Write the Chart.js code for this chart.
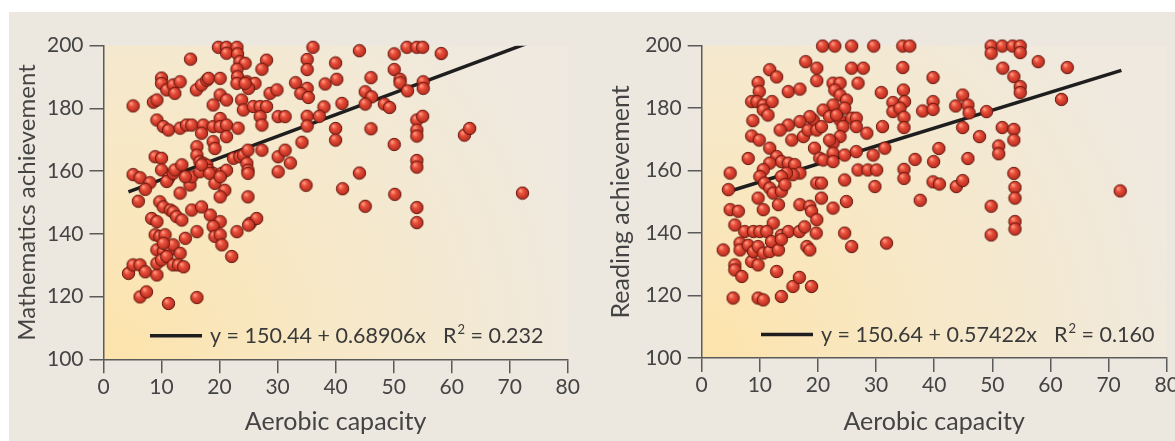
<!DOCTYPE html>
<html>
<head>
<meta charset="utf-8">
<script src="https://cdn.jsdelivr.net/npm/chart.js@4.4.1/dist/chart.umd.min.js"></script>
<style>
  body { margin: 0; background: #fff; width: 1175px; height: 441px; overflow: hidden; position: relative; }
  #frame { position: absolute; left: 9px; top: 12px; width: 1166px; height: 429px; background: #ede8df; }
  canvas { position: absolute; top: 0; }
  #mathChart { left: 0; }
  #readChart { left: 590px; }
</style>
</head>
<body>
<div id="frame"></div>
<canvas id="mathChart" width="590" height="441"></canvas>
<canvas id="readChart" width="600" height="441"></canvas>
<script>
// aerobic capacity vs. mathematics achievement
const mathX = [5.1, 8.6, 9.2, 10, 10, 10.9, 12, 12.3, 13.2, 15, 19.8, 21.2, 23, 21.2, 23.1, 23.5, 24.4, 23, 23.1, 23,
  24.7, 26.1, 25, 24.4, 28.1, 27.3, 16, 16.9, 17.8, 18.1, 20.1, 20.1, 21.2, 18.9, 23.8, 24.1, 25.8, 27, 28.1, 27,
  27.3, 28.7, 29.9, 30.1, 31.3, 9.2, 10.3, 11.2, 13.2, 14.3, 15.2, 17.2, 16.9, 18.9, 20.1, 20.1, 21.2, 23.2, 21.2, 18.9,
  19.2, 16.1, 16.1, 16.6, 17.2, 17.8, 18.1, 18.9, 20.4, 21.2, 22.4, 23.5, 24.1, 24.9, 24.7, 24.9, 24.9, 27.3, 30.1, 31.3,
  32.2, 30.1, 5.1, 6.3, 8, 7.2, 6, 8.9, 10, 10, 11.2, 10.9, 12, 12.3, 13.5, 13.2, 14.9, 15.2, 14.1, 16.6,
  16.9, 18.3, 19.2, 20.1, 20.9, 20.1, 24.9, 9.7, 10.3, 11.5, 12, 12.6, 13.5, 15.2, 16.9, 18.4, 20.1, 8.3, 9.2, 25.3,
  26.4, 8.9, 9.7, 10.6, 9.2, 10.3, 11.4, 12, 13.2, 14.1, 16.1, 18.9, 19.2, 20.1, 20.4, 22.1, 23, 25, 4.3, 5.1,
  6.3, 7.2, 9.2, 9.2, 10, 10.9, 12, 12.9, 13.8, 6.3, 7.4, 11.2, 16.1, 10.3, 36.1, 44.1, 50.1, 52.3, 54, 55,
  58.2, 35.1, 35.1, 40, 33.1, 35.1, 34, 35.3, 38.2, 40.2, 46.1, 50.1, 51.1, 51.1, 52.4, 55.1, 55.1, 45.1, 46.2, 45.1,
  48.4, 49.3, 41.1, 38, 35.1, 37.2, 35.1, 40, 40, 46.1, 50.1, 34.2, 54, 55, 54, 54, 62.2, 63.1, 44.1, 54,
  54, 34.9, 41.2, 50.2, 45.1, 54, 54, 72.2];
const mathY = [180.8, 182, 182.7, 189.7, 188, 185.9, 187.5, 184.8, 188.5, 195.7, 199.5, 199.5, 199.5, 197.6, 197.4, 194.9, 194.4, 192.5, 190.1, 188,
  188.5, 188, 186.4, 188, 195.4, 192.5, 185.9, 187.5, 189, 189.6, 189.6, 184.3, 182.7, 181.1, 182.7, 179.5, 180.6, 180.6, 180.6, 177.4,
  174.7, 184.8, 185.9, 177.4, 177.4, 176.3, 174.2, 173.1, 173.7, 174.7, 174.7, 174.7, 172.1, 174.2, 176.8, 174.2, 174.7, 173.7, 171, 169.4,
  167.2, 167.8, 165.1, 163, 162.5, 161.9, 160.3, 159.3, 159.3, 160.3, 164.1, 164.6, 165.1, 166.7, 162.5, 160.3, 159.3, 166.7, 164.6, 166.7,
  162.6, 159.8, 158.9, 157.9, 156.3, 154.2, 150.4, 164.6, 164.1, 160.4, 157.7, 156.7, 159.3, 160.4, 162, 153, 155.6, 158.2, 158.2, 159.8,
  162, 159.3, 156.1, 158.2, 153.9, 151.8, 151.8, 150.2, 148.6, 147.6, 147, 145.5, 144.4, 147.6, 148.6, 146, 143.9, 144.9, 143.9, 143.4,
  144.9, 139.7, 139.2, 139.7, 134.9, 134.4, 134.9, 136.5, 133.8, 138.6, 140.7, 142.4, 139.2, 139.7, 136.5, 132.8, 140.7, 142.8, 127.4, 130.1,
  130.1, 127.9, 126.9, 130.6, 131.7, 132.8, 130.1, 130.1, 129.5, 119.9, 121.5, 117.8, 119.7, 137, 199.5, 198.4, 197.4, 199.5, 199.5, 199.5,
  197.5, 195.6, 192.4, 194.5, 188.2, 186.4, 184.8, 183.5, 187.8, 189.3, 189.8, 192.4, 189.3, 188.2, 185.6, 188.5, 186.4, 185.3, 183.7, 181.4,
  181.4, 180.3, 181.6, 180.5, 177.5, 177.5, 174.4, 173.6, 169.9, 173.5, 168.5, 169.2, 176.3, 177.5, 173.1, 171.2, 171.5, 173.6, 159.4, 163.4,
  161.3, 155.5, 154.4, 152.6, 148.8, 148.4, 143.6, 153];

// aerobic capacity vs. reading achievement
const readX = [20.8, 22.9, 25.8, 29.6, 17.9, 19.8, 19.8, 25.8, 27.8, 26.9, 30.9, 32.9, 32.9, 11.7, 12.9, 9.7, 9.9, 8.6, 9.5, 10.6,
  12.1, 10.6, 11.4, 8.8, 8.6, 9.9, 8, 14.9, 16.9, 22.6, 23.8, 22.9, 23.8, 24.9, 24.6, 22.6, 20.9, 22, 23.8, 23.2,
  25.8, 26.6, 19.2, 18.6, 16.9, 14.9, 13.5, 15.5, 17.5, 18.3, 19.8, 20.6, 24.3, 26.6, 28.4, 23.8, 22.6, 22, 22.6, 19.4,
  20.3, 20.9, 22.6, 24.6, 26.6, 31.5, 29.5, 26.9, 28.6, 30.1, 24.6, 29.8, 11.7, 12.9, 13.7, 14.9, 16, 16.9, 15.7, 14.6,
  13.7, 11.7, 10.6, 10, 10.8, 11.7, 12.3, 13.7, 14.3, 16.9, 18.6, 18.9, 19.8, 20.6, 22.6, 24.9, 19.8, 20.6, 9.7, 10.6,
  13.2, 4.9, 4.6, 4.9, 6.3, 12.3, 5.7, 7.4, 8.9, 10, 11.2, 13.7, 14.9, 16.8, 17.7, 19.7, 24.6, 25.8, 31.8, 3.7,
  5.7, 5.7, 6.9, 5.4, 9.7, 10.6, 13.7, 15.7, 16.8, 18.9, 18.1, 18.6, 12.9, 8.6, 9.7, 6.6, 6.6, 8, 8.9, 9.7,
  10.6, 11.7, 12, 13.2, 13.7, 34.6, 35.8, 49.8, 49.8, 51.7, 53.5, 54.8, 54.8, 57.9, 62.9, 51.8, 53.7, 54.8, 54.8, 34.6,
  39.8, 34.7, 34.9, 34.1, 34.8, 34.8, 31.1, 38, 39.8, 39.8, 43.7, 44.9, 45.8, 46, 44.9, 47.8, 49, 51.7, 53.7, 53.7,
  51.1, 51.1, 61.9, 36.7, 39.9, 40.8, 45.8, 34.8, 34.8, 39.8, 40.9, 43.8, 44.9, 37.6, 49.8, 53.7, 53.9, 53.9, 53.9, 53.9,
  72, 49.8];
const readY = [199.9, 199.9, 199.9, 199.9, 194.9, 192.8, 188.8, 192.8, 192.8, 188, 185, 181.8, 178.9, 192.3, 190, 188.2, 185.3, 182.1, 182.1, 181,
  182.1, 179.4, 177.8, 176, 171.1, 169.8, 163.9, 185.3, 186.1, 188, 188, 185.8, 184.2, 182.6, 180, 181, 179.4, 177.3, 176.2, 177.8,
  176.8, 176.8, 176.2, 177.3, 175.7, 174.6, 173, 169.8, 170.9, 173, 173, 174.1, 174.1, 174.1, 172, 170.9, 168.8, 169.8, 165.6, 167.2,
  164, 163.4, 162.9, 165, 166.1, 167.2, 165, 160.2, 160.2, 160.2, 157, 154.9, 167.2, 164.5, 162.9, 162.4, 161.9, 159.2, 158.7, 159.2,
  158.1, 162.4, 160.3, 158.1, 156, 154.4, 152.8, 153.4, 155.5, 149.1, 148.6, 147, 144.3, 151.2, 148, 150.1, 156, 156, 151.2, 147.5,
  149.1, 159.2, 153.9, 147.5, 147, 143.2, 142.6, 140.5, 140.5, 140.5, 140.5, 139.3, 140.5, 140.5, 142, 140, 140, 135.7, 136.8, 134.6,
  129.8, 128.2, 126.1, 119.2, 119.2, 118.6, 119.7, 122.9, 125.8, 122.9, 135.7, 134.6, 127.7, 130.9, 129.8, 136.8, 134.6, 136.1, 134.1, 135.7,
  133.6, 134.1, 137.3, 134.6, 138, 199.9, 199.9, 199.9, 197.6, 199.9, 199.9, 199.9, 197.8, 194.9, 193, 192.8, 190.1, 186.9, 185, 193,
  189.8, 185.8, 182.1, 180, 177.1, 173.8, 174.1, 179.1, 182.1, 179.6, 180.7, 184.2, 181, 178.5, 173.8, 170.9, 178.9, 173.8, 173.2, 169.8,
  167.9, 165.4, 182.8, 163.6, 162.9, 167.1, 163.9, 160.4, 157.5, 156.4, 155.7, 154.9, 156.8, 150.5, 148.6, 159.1, 154.6, 151.2, 143.7, 141.3,
  153.5, 139.4];

// regression: [intercept, slope], x range of the fitted line, R squared
const mathFit = [150.44, 0.68906];
const mathRange = [4.3, 73];
const mathR2 = '0.232';
const readFit = [150.64, 0.57422];
const readRange = [5.5, 72.2];
const readR2 = '0.160';

const xTicks = [0, 10, 20, 30, 40, 50, 60, 70, 80];
const yTicks = [100, 120, 140, 160, 180, 200];

Chart.defaults.font.family = 'Lato';
Chart.defaults.color = '#444';

// little shaded red ball used for every point
const ball = (function () {
  const c = document.createElement('canvas');
  c.width = 15; c.height = 15;
  const g = c.getContext('2d');
  const grd = g.createRadialGradient(5.3, 4.8, 0.5, 7.5, 7.5, 7);
  grd.addColorStop(0, '#ff9a82');
  grd.addColorStop(0.35, '#e84e3a');
  grd.addColorStop(1, '#aa2518');
  g.fillStyle = grd;
  g.beginPath();
  g.arc(7.5, 7.5, 6.2, 0, Math.PI * 2);
  g.fill();
  g.lineWidth = 1;
  g.strokeStyle = '#651810';
  g.stroke();
  return c;
})();

const bgPlugin = {
  id: 'bg',
  beforeDraw(chart) {
    const { ctx, chartArea: a } = chart;
    const grd = ctx.createRadialGradient(a.left, a.bottom, 0, a.left, a.bottom, a.width * 1.05);
    grd.addColorStop(0, '#fde3ab');
    grd.addColorStop(0.45, '#f7e8c6');
    grd.addColorStop(1, '#efe9df');
    ctx.save();
    ctx.fillStyle = grd;
    ctx.fillRect(a.left, a.top, a.width, a.height);
    ctx.restore();
  }
};

const fitLegend = {
  id: 'fitLegend',
  afterDraw(chart, args, opts) {
    const { ctx, chartArea: a } = chart;
    const x0 = a.left + opts.offset;
    const yLine = a.bottom - 23.5;
    ctx.save();
    ctx.strokeStyle = '#1e1e1e';
    ctx.lineWidth = 3.5;
    ctx.beginPath();
    ctx.moveTo(x0, yLine);
    ctx.lineTo(x0 + 52, yLine);
    ctx.stroke();
    ctx.fillStyle = '#3a3a3a';
    ctx.font = '21.5px Lato';
    ctx.textBaseline = 'alphabetic';
    let x = x0 + 60;
    const base = a.bottom - 16;
    const eq = 'y = ' + opts.fit[0].toFixed(2) + ' + ' + opts.fit[1] + 'x';
    ctx.fillText(eq, x, base);
    x += ctx.measureText(eq).width + 17;
    ctx.fillText('R', x, base);
    x += ctx.measureText('R').width;
    ctx.font = '13px Lato';
    ctx.fillText('2', x + 1, base - 9);
    x += ctx.measureText('2').width + 1;
    ctx.font = '21.5px Lato';
    ctx.fillText(' = ' + opts.r2, x, base);
    ctx.restore();
  }
};

function makeChart(id, xs, ys, fit, range, r2, yTitle, lay) {
  const pts = xs.map((x, i) => ({ x: x, y: ys[i] }));
  const line = range.map(x => ({ x: x, y: fit[0] + fit[1] * x }));
  return new Chart(document.getElementById(id), {
    data: {
      datasets: [
        { type: 'line', data: line, borderColor: '#1e1e1e', borderWidth: 3.5, pointRadius: 0, order: 2 },
        { type: 'scatter', data: pts, pointStyle: ball, clip: false, order: 1 }
      ]
    },
    options: {
      responsive: false,
      animation: false,
      devicePixelRatio: 1,
      events: [],
      layout: { padding: { top: 45.7, right: lay.right, bottom: 0, left: 0 } },
      plugins: {
        legend: { display: false },
        tooltip: { enabled: false },
        fitLegend: { offset: lay.legend, fit: fit, r2: r2 }
      },
      scales: {
        x: {
          type: 'linear', min: 0, max: 80,
          afterBuildTicks: s => { s.ticks = xTicks.map(v => ({ value: v })); },
          afterFit: s => { s.height = lay.xh; },
          ticks: { font: { size: 21 }, color: '#444', padding: 1 },
          grid: { drawOnChartArea: false, tickLength: 14, color: '#5a5a5a', lineWidth: 1.5 },
          border: { color: '#5a5a5a', width: 1.5 },
          title: { display: true, text: 'Aerobic capacity', font: { size: 25 }, color: '#444', padding: { top: 0, bottom: 4 } }
        },
        y: {
          type: 'linear', min: 100, max: 200,
          afterBuildTicks: s => { s.ticks = yTicks.map(v => ({ value: v })); },
          afterFit: s => { s.width = lay.yw; },
          ticks: { font: { size: 21 }, color: '#444', padding: 6 },
          grid: { drawOnChartArea: false, tickLength: 14, color: '#5a5a5a', lineWidth: 1.5 },
          border: { color: '#5a5a5a', width: 1.5 },
          title: { display: true, text: yTitle, font: { size: lay.ts }, color: '#444', padding: { top: lay.tp, bottom: 0 } }
        }
      }
    },
    plugins: [bgPlugin, fitLegend]
  });
}

makeChart('mathChart', mathX, mathY, mathFit, mathRange, mathR2, 'Mathematics achievement',
  { right: 22.3, xh: 81.7, yw: 103.5, tp: 13, ts: 24, legend: 46.5 });
makeChart('readChart', readX, readY, readFit, readRange, readR2, 'Reading achievement',
  { right: 23.3, xh: 83, yw: 111.7, tp: 16, ts: 25, legend: 59.3 });
</script>
</body>
</html>
